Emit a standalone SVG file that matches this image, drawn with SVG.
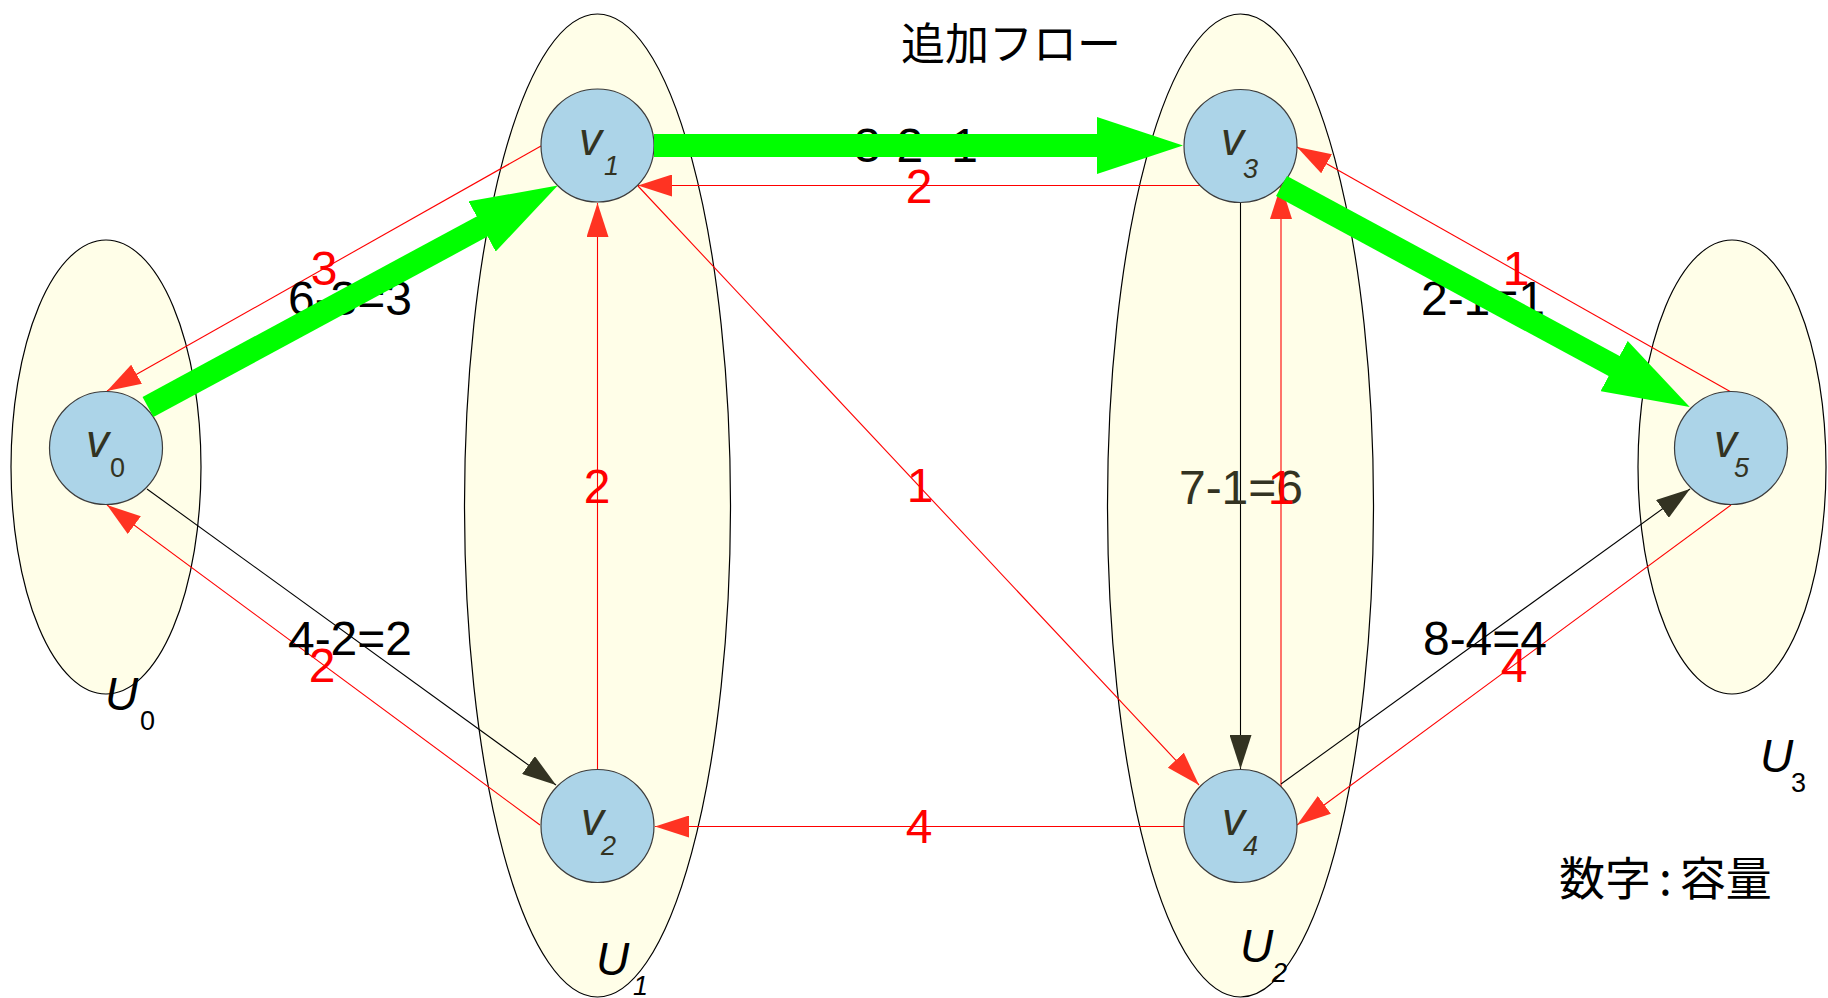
<svg xmlns="http://www.w3.org/2000/svg" width="1828" height="998" viewBox="0 0 1828 998">
<defs>
<style>
.grp{fill:#fffee8;stroke:#000;stroke-width:1.2}
.nd{fill:#acd4e8;stroke:#3c3c3c;stroke-width:1.2}
.red{stroke:#ff0000;stroke-width:1.1;fill:none}
.blk{stroke:#000;stroke-width:1.1;fill:none}
.grn{stroke:#00ff00;stroke-width:23;fill:none}
.lab{font-family:"Liberation Sans",Arial,sans-serif;font-size:48px;text-anchor:middle}
.lb{fill:#000}
.lr{fill:#ff0000}
.nl{font-family:"Liberation Sans",Arial,sans-serif;font-style:italic;font-size:46px;fill:#333322}
.ns{font-family:"Liberation Sans",Arial,sans-serif;font-style:italic;font-size:27px;fill:#333322}
.ul{font-family:"Liberation Sans",Arial,sans-serif;font-style:italic;font-size:46px;fill:#000}
.us{font-family:"Liberation Sans",Arial,sans-serif;font-size:27px;fill:#000}
.cjk{font-family:"Noto Sans CJK JP","Noto Sans CJK SC",sans-serif;font-size:44px;fill:#000}
</style>
<marker id="ar" markerUnits="userSpaceOnUse" markerWidth="34" markerHeight="22" refX="34" refY="11" orient="auto" viewBox="0 0 34 22">
<path d="M0,0 L34,11 L0,22 z" fill="#ff3322"/>
</marker>
<marker id="ab" markerUnits="userSpaceOnUse" markerWidth="34" markerHeight="22" refX="34" refY="11" orient="auto" viewBox="0 0 34 22">
<path d="M0,0 L34,11 L0,22 z" fill="#333322"/>
</marker>
<marker id="ag" markerUnits="userSpaceOnUse" markerWidth="86" markerHeight="57" refX="1" refY="28.5" orient="auto" viewBox="0 0 86 57">
<path d="M0,0 L86,28.5 L0,57 z" fill="#00ff00"/>
</marker>
</defs>
<rect width="1828" height="998" fill="#fff"/>

<g id="groups">
<g id="U0"><ellipse class="grp" cx="106" cy="467" rx="95" ry="227"/></g>
<g id="U1"><ellipse class="grp" cx="597.5" cy="505.5" rx="133" ry="491.5"/></g>
<g id="U2"><ellipse class="grp" cx="1240.5" cy="505.5" rx="133" ry="491.5"/></g>
<g id="U3"><ellipse class="grp" cx="1732" cy="467" rx="94" ry="227"/></g>
</g>

<g id="connectors">
<line class="red" x1="541" y1="146" x2="107" y2="391" marker-end="url(#ar)"/>
<line class="red" x1="540" y1="825" x2="107" y2="505" marker-end="url(#ar)"/>
<line class="red" x1="597.5" y1="769" x2="597.5" y2="203" marker-end="url(#ar)"/>
<line class="red" x1="1200" y1="185.5" x2="638" y2="185.5" marker-end="url(#ar)"/>
<line class="red" x1="638" y1="186" x2="1199" y2="785" marker-end="url(#ar)"/>
<line class="red" x1="1281" y1="788" x2="1281" y2="185" marker-end="url(#ar)"/>
<line class="red" x1="1731" y1="392" x2="1297" y2="147" marker-end="url(#ar)"/>
<line class="red" x1="1731" y1="505" x2="1297" y2="825" marker-end="url(#ar)"/>
<line class="red" x1="1184" y1="826.5" x2="655" y2="826.5" marker-end="url(#ar)"/>
<line class="blk" x1="147" y1="489" x2="556" y2="785" marker-end="url(#ab)"/>
<line class="blk" x1="1240.5" y1="203" x2="1240.5" y2="769" marker-end="url(#ab)"/>
<line class="blk" x1="1281" y1="784" x2="1690" y2="489" marker-end="url(#ab)"/>
</g>

<g id="v0"><ellipse class="nd" cx="106" cy="448" rx="56.5" ry="56.5"/><text class="nl" x="86" y="457">v</text><text class="us" x="110" y="477" style="fill:#333322">0</text></g>
<g id="v1"><ellipse class="nd" cx="597.5" cy="145.5" rx="56.5" ry="56.5"/><text class="nl" x="579" y="155">v</text><text class="ns" x="604" y="175">1</text></g>
<g id="v2"><ellipse class="nd" cx="597.5" cy="826" rx="56.5" ry="56.5"/><text class="nl" x="581" y="835">v</text><text class="ns" x="601" y="855">2</text></g>
<g id="v3"><ellipse class="nd" cx="1240.5" cy="146" rx="56.5" ry="56.5"/><text class="nl" x="1221" y="155">v</text><text class="ns" x="1243" y="178">3</text></g>
<g id="v4"><ellipse class="nd" cx="1240.5" cy="826" rx="56.5" ry="56.5"/><text class="nl" x="1222" y="835">v</text><text class="ns" x="1243" y="855">4</text></g>
<g id="v5"><ellipse class="nd" cx="1731" cy="448" rx="56.5" ry="56.5"/><text class="nl" x="1714" y="457">v</text><text class="ns" x="1734" y="477">5</text></g>

<g id="black-labels">
<text class="lab lb" x="350" y="315">6-3=3</text>
<text class="lab lb" x="350" y="655">4-2=2</text>
<text class="lab lb" x="916" y="162">3-2=1</text>
<text class="lab" x="1241" y="504" fill="#333322">7-1=6</text>
<text class="lab lb" x="1483" y="315">2-1=1</text>
<text class="lab lb" x="1485" y="655">8-4=4</text>
</g>

<g id="flow">
<line class="grn" x1="148" y1="407" x2="483" y2="226" marker-end="url(#ag)"/>
<line class="grn" x1="654" y1="145.5" x2="1098" y2="145.5" marker-end="url(#ag)"/>
<line class="grn" x1="1281.5" y1="186" x2="1615" y2="366.5" marker-end="url(#ag)"/>
</g>

<g id="red-labels">
<text class="lab lr" x="324" y="285">3</text>
<text class="lab lr" x="322" y="682">2</text>
<text class="lab lr" x="597" y="503">2</text>
<text class="lab lr" x="919" y="203">2</text>
<text class="lab lr" x="920" y="502">1</text>
<text class="lab lr" x="1281" y="504">1</text>
<text class="lab lr" x="1516" y="285">1</text>
<text class="lab lr" x="1514" y="682">4</text>
<text class="lab lr" x="919" y="843">4</text>
</g>

<g id="group-labels">
<text class="ul" x="105" y="710">U</text><text class="us" x="140" y="730">0</text>
<text class="ul" x="596" y="975">U</text><text class="us" x="633" y="995" style="font-style:italic">1</text>
<text class="ul" x="1240" y="962">U</text><text class="us" x="1272" y="982" style="font-style:italic">2</text>
<text class="ul" x="1760" y="772">U</text><text class="us" x="1791" y="792">3</text>
</g>

<text class="cjk" x="1011" y="60" text-anchor="middle">追加フロー</text>
<text class="cjk" x="1559" y="895" style="font-size:46px">数字<tspan dx="8">:</tspan><tspan dx="8">容量</tspan></text>
</svg>
